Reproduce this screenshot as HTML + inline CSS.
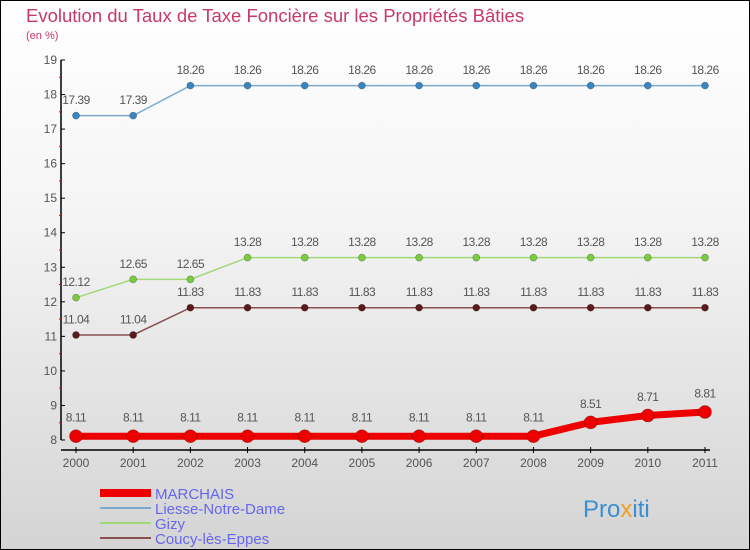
<!DOCTYPE html>
<html><head><meta charset="utf-8"><style>
body{margin:0;width:750px;height:550px;overflow:hidden;font-family:"Liberation Sans",sans-serif;}
#wrap{position:absolute;left:0;top:0;width:748px;height:548px;border:1px solid #000;background:linear-gradient(#fff 0%,#f4f4f4 40%,#d4d4d4 100%);}
</style></head><body>
<div id="wrap">
<svg id="chart" width="750" height="550" style="position:absolute;left:-1px;top:-1px">
<text x="26" y="22" font-size="18.5" fill="#c8386a">Evolution du Taux de Taxe Foncière sur les Propriétés Bâties</text>
<text x="26" y="39" font-size="11" fill="#c8386a">(en %)</text>
<g id="axes"></g><g id="series"></g>
<g>
<rect x="100" y="489" width="51" height="8" fill="#e00"/>
<text x="155" y="499" font-size="15" fill="#6666ee">MARCHAIS</text>
<rect x="100" y="507" width="51" height="2" fill="#7aabcf"/>
<text x="155" y="514" font-size="15" fill="#6666ee">Liesse-Notre-Dame</text>
<rect x="100" y="522" width="51" height="2" fill="#a0d878"/>
<text x="155" y="529" font-size="15" fill="#6666ee">Gizy</text>
<rect x="100" y="537" width="51" height="2" fill="#8a5050"/>
<text x="155" y="544" font-size="15" fill="#6666ee">Coucy-lès-Eppes</text>
</g>
<g><text x="583" y="517" font-size="24" fill="#3a8fd0">Pro<tspan fill="#f0a020">x</tspan>iti</text></g>
</svg>
</div>
<script>
const years=[2000,2001,2002,2003,2004,2005,2006,2007,2008,2009,2010,2011];
const marchais=[8.11,8.11,8.11,8.11,8.11,8.11,8.11,8.11,8.11,8.51,8.71,8.81];
const liesse=[17.39,17.39,18.26,18.26,18.26,18.26,18.26,18.26,18.26,18.26,18.26,18.26];
const gizy=[12.12,12.65,12.65,13.28,13.28,13.28,13.28,13.28,13.28,13.28,13.28,13.28];
const coucy=[11.04,11.04,11.83,11.83,11.83,11.83,11.83,11.83,11.83,11.83,11.83,11.83];
const yTicks=[8,9,10,11,12,13,14,15,16,17,18,19];
const NS="http://www.w3.org/2000/svg";
function x(i){return 76+i*(705-76)/(years.length-1);}
function y(v){return 440-(v-8)*(380/11);}
function mk(tag,attrs,parent){const e=document.createElementNS(NS,tag);for(const k in attrs)e.setAttribute(k,attrs[k]);parent.appendChild(e);return e;}
const ax=document.getElementById('axes');
let a=mk('line',{x1:61,y1:60,x2:61,y2:440,stroke:'#000','stroke-width':1.5},ax);


let b=mk('line',{x1:61,y1:450,x2:710,y2:450,stroke:'#000','stroke-width':1.5},ax);


yTicks.forEach((t,i)=>{
 mk('line',{x1:61,y1:y(t),x2:65,y2:y(t),stroke:'#000'},ax);
 if(i<yTicks.length-1) mk('line',{x1:59,y1:y(t+0.5),x2:62,y2:y(t+0.5),stroke:'#e00'},ax);
 const l=mk('text',{x:57,y:y(t)+4,'font-size':12,fill:'#555','text-anchor':'end'},ax);
 l.textContent=t;
 
 
});
years.forEach((yr,i)=>{
 mk('line',{x1:x(i),y1:447,x2:x(i),y2:453,stroke:'#000'},ax);
 const l=mk('text',{x:x(i),y:467,'font-size':12,fill:'#555','text-anchor':'middle'},ax);
 l.textContent=yr;
 
 
});
const sg=document.getElementById('series');
function draw(vals,color,w,r,dot,name){
 const g=mk('g',{},sg);
 
 
 mk('polyline',{points:vals.map((v,i)=>x(i)+','+y(v)).join(' '),fill:'none',stroke:color,'stroke-width':w},g);
 vals.forEach((v,i)=>{
  const c=mk('circle',{cx:x(i),cy:y(v),r:r,fill:dot,stroke:'rgba(0,0,0,0.3)','stroke-width':0.7},g);
  
  
  const t=mk('text',{x:x(i),y:y(v)-(r+8),'font-size':12,fill:'#555','text-anchor':'middle','letter-spacing':'-0.5'},g);
  t.textContent=v.toFixed(2).replace(/0$/,'').replace(/\.$/,'');
  
  
 });
}
draw(liesse,'#7aabcf',1.5,3.5,'#3a85c0','series-liesse');
draw(gizy,'#a0d878',1.5,3.5,'#7acb40','series-gizy');
draw(coucy,'#8a5050',1.5,3.5,'#5a1a1a','series-coucy');
draw(marchais,'#e00',7,6.5,'#e00','series-marchais');
</script>
</body></html>
